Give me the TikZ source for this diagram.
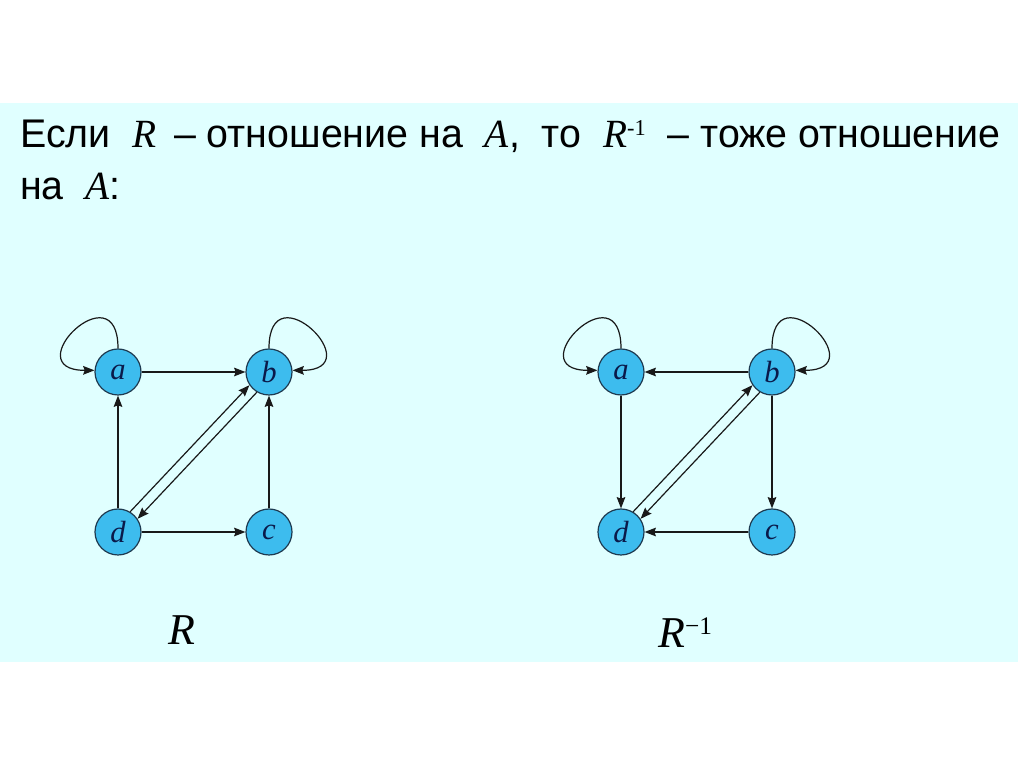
\documentclass[tikz,border=0pt]{standalone}
\usepackage{fontspec}
\usepackage{graphicx}
\setmainfont{Liberation Sans}
\newfontfamily\tms{Liberation Serif}
\usetikzlibrary{arrows.meta,calc}
\definecolor{bgcyan}{HTML}{E0FFFF}
\definecolor{nodeblue}{HTML}{3DBCEE}
\definecolor{nodeedge}{HTML}{1E3A50}
\definecolor{lettercol}{HTML}{0A1A4A}
\newlength\titlew
\newcommand\itR{{\tms\itshape R}}
\newcommand\itA{{\tms\itshape A}}
\newcommand\lineonetext{Если\ \ \itR\ \,– отношение на\ \ \itA,\ \ то\ \ \itR\raisebox{9pt}{\tms\fontsize{17}{17}\selectfont -1}\ \ – тоже отношение}
\begin{document}
\settowidth\titlew{\fontsize{30}{35}\selectfont\lineonetext}%
\pgfmathsetmacro\sx{735/\titlew}%
\begin{tikzpicture}[x=0.75pt,y=0.75pt,
  vert/.style={circle, draw=nodeedge, fill=nodeblue, line width=0.9pt,
    minimum size=34.5pt, inner sep=0pt,
    font=\tms\itshape\fontsize{23}{23}\selectfont, text=lettercol},
  arc/.style={-{Stealth[length=8.5pt,width=6.5pt,inset=1.2pt]}, line width=0.9pt, draw=black!90},
  titletext/.style={anchor=base west, inner sep=0pt, font=\fontsize{30}{35}\selectfont},
  label/.style={anchor=base west, inner sep=0pt, font=\tms\itshape\fontsize{33}{33}\selectfont}]
\useasboundingbox (0,0) rectangle (1024,767);
\fill[bgcyan] (0,105) rectangle (1018,664);
\node[titletext] (t1) at (20,619) {\scalebox{\sx}[1]{\lineonetext}};
\node[titletext] (t2) at (20,567) {\scalebox{\sx}[1]{на\ \ \itA:}};
% left graph R
\begin{scope}
\node[vert] (a) at (118,395) {a};
\node[vert] (b) at (269,395) {b};
\node[vert] (d) at (118,235) {d};
\node[vert] (c) at (269,235) {c};
\draw[arc] (a.north) .. controls +(0,80) and +(-80,0) .. (a.176);
\draw[arc] (b.north) .. controls +(0,80) and +(80,0) .. (b.4);
\draw[arc] (a) -- (b);
\draw[arc] (d) -- (a);
\draw[arc] (d) -- (c);
\draw[arc] (c) -- (b);
\draw[arc] (d.59.2) -- (b.214.2);
\draw[arc] (b.239.2) -- (d.34.2);
\end{scope}
% right graph R^-1
\begin{scope}
\node[vert] (a2) at (621,395) {a};
\node[vert] (b2) at (772,395) {b};
\node[vert] (d2) at (621,235) {d};
\node[vert] (c2) at (772,235) {c};
\draw[arc] (a2.north) .. controls +(0,80) and +(-80,0) .. (a2.176);
\draw[arc] (b2.north) .. controls +(0,80) and +(80,0) .. (b2.4);
\draw[arc] (b2) -- (a2);
\draw[arc] (a2) -- (d2);
\draw[arc] (c2) -- (d2);
\draw[arc] (b2) -- (c2);
\draw[arc] (d2.59.2) -- (b2.214.2);
\draw[arc] (b2.239.2) -- (d2.34.2);
\end{scope}
\node[label] (lR) at (168,122) {R};
\node[label] (lRinv) at (658,119) {R\raisebox{10pt}{\upshape\fontsize{19}{19}\selectfont −1}};
\end{tikzpicture}
\end{document}
